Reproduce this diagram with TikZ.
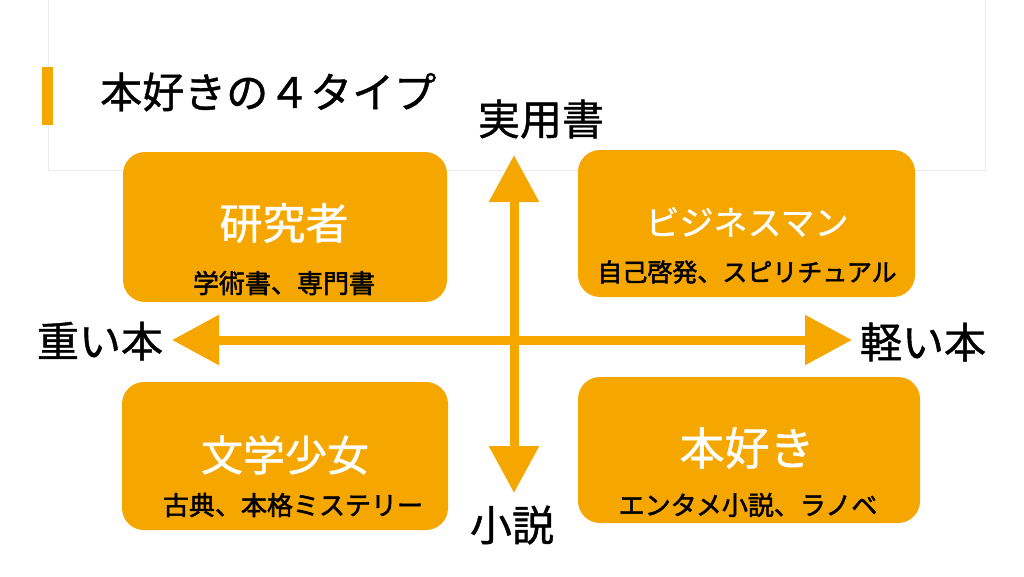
\documentclass[tikz,border=0pt]{standalone}
\usepackage{fontspec}
\setmainfont{Noto Sans CJK JP}
\newfontfamily\jpmid[FakeBold=1]{Noto Sans CJK JP}
\newfontfamily\jpsub[FakeBold=2]{Noto Sans CJK JP}
\usepackage{tikz}
\usetikzlibrary{arrows.meta,positioning}
\definecolor{bookorange}{RGB}{245,167,0}
\definecolor{framegray}{RGB}{234,234,234}

\begin{document}
\begin{tikzpicture}[x=1pt, y=-1pt,
  typebox/.style={fill=bookorange, rounded corners=22pt, inner sep=0pt},
  typename/.style={text=white, inner sep=0pt},
  typesub/.style={text=black, font=\jpsub\fontsize{26}{26}\selectfont, inner sep=0pt},
  axislabel/.style={font=\jpmid\fontsize{42}{42}\selectfont, inner sep=0pt},
  axisarrow/.style={draw=bookorange, line width=9pt, {Triangle[width=48pt,length=47pt]}-{Triangle[width=48pt,length=47pt]}}
]
\useasboundingbox (0,0) rectangle (1024,576);

% Header
\draw[framegray, line width=1pt] (48,-10) rectangle (985,170);
\fill[bookorange] (42,67) rectangle (53,125);
\node[anchor=west, inner sep=0pt, font=\jpmid\fontsize{42}{42}\selectfont] (heading) at (100,92) {本好きの４タイプ};

% Types
\node[typebox, minimum width=324pt, minimum height=150pt] (researcher) at (285,227) {};
\node[typebox, minimum width=337pt, minimum height=147pt] (business) at (746.5,223.5) {};
\node[typebox, minimum width=326pt, minimum height=148pt] (literary) at (285,456) {};
\node[typebox, minimum width=342pt, minimum height=146pt] (booklover) at (749,450) {};

\node[typename, font=\jpmid\fontsize{43}{43}\selectfont] (researchername) at (284,223) {研究者};
\node[typesub] (researchersub) at (284,283) {学術書、専門書};
\node[typename, font=\jpmid\fontsize{34}{34}\selectfont] (businessname) at (747,222) {ビジネスマン};
\node[typesub, font=\jpsub\fontsize{25}{25}\selectfont] (businesssub) at (747,272) {自己啓発、スピリチュアル};
\node[typename, font=\jpmid\fontsize{42}{42}\selectfont] (literaryname) at (285,455) {文学少女};
\node[typesub] (literarysub) at (293,505) {古典、本格ミステリー};
\node[typename, font=\jpmid\fontsize{45}{45}\selectfont] (booklovername) at (747,448) {本好き};
\node[typesub] (bookloversub) at (748,505) {エンタメ小説、ラノベ};

% Axes
\node[axislabel] (practical) at (541,119) {実用書};
\node[axislabel] (novel) at (512,525) {小説};
\node[axislabel] (heavy) at (100,341) {重い本};
\node[axislabel] (light) at (923,342) {軽い本};

\coordinate (up) at (514,155);
\coordinate (down) at (514,493);
\coordinate (left) at (172,340);
\coordinate (right) at (852,340);
\draw[axisarrow] (up) -- (down);
\draw[axisarrow] (left) -- (right);

\end{tikzpicture}
\end{document}
